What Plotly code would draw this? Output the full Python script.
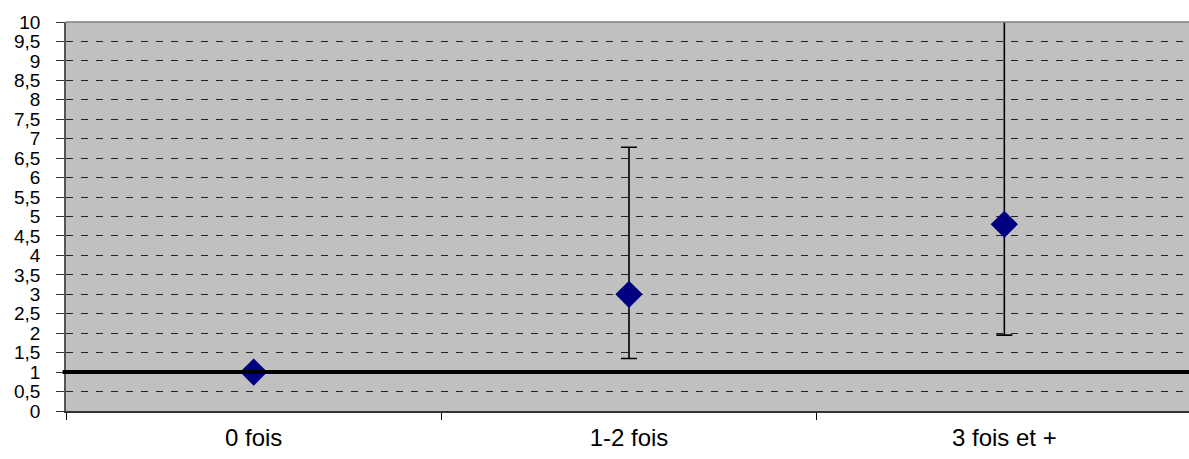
import plotly.graph_objects as go

categories = ["0 fois", "1-2 fois", "3 fois et +"]
values = [1.0, 3.0, 4.8]
upper = [1.0, 6.78, 12.0]
lower = [1.0, 1.35, 1.95]
ref_value = 1
y_ticks = [i * 0.5 for i in range(21)]

err_plus = [u - v for u, v in zip(upper, values)]
err_minus = [v - l for v, l in zip(values, lower)]

fig = go.Figure()
fig.add_trace(go.Scatter(
    x=categories, y=values, mode="markers",
    marker=dict(symbol="diamond", size=21, color="#000080", line=dict(width=0)),
    error_y=dict(type="data", array=err_plus, arrayminus=err_minus, symmetric=False,
                 color="black", thickness=1.6, width=8, visible=True),
    showlegend=False,
))

fig.add_shape(type="line", xref="paper", yref="y", x0=-0.003, x1=1, y0=ref_value, y1=ref_value,
              line=dict(color="black", width=4), layer="above")
fig.add_shape(type="line", xref="paper", yref="paper", x0=0, x1=1, y0=1, y1=1,
              line=dict(color="#808080", width=1.5), layer="above")

fig.update_layout(
    width=1192, height=459,
    margin=dict(l=66, r=0, t=22, b=48, autoexpand=False),
    paper_bgcolor="white", plot_bgcolor="#C0C0C0",
    separators=", ",
    font=dict(family="Liberation Sans, Arial, sans-serif", size=24, color="black"),
)
fig.update_xaxes(
    type="category", range=[-0.5, 2.5], tickson="boundaries", automargin=False,
    ticks="outside", ticklen=7, tickcolor="black", tickwidth=1,
    showgrid=False, showline=True, linecolor="#333333", linewidth=1.5,
    tickfont=dict(size=24), ticklabelstandoff=4,
)
fig.update_yaxes(
    range=[0, 10], tickvals=y_ticks, ticks="outside", ticklen=8, tickcolor="#333333",
    showline=True, linecolor="#555555", linewidth=1.5, automargin=False,
    showgrid=True, gridcolor="#222222", gridwidth=1, griddash="7px,8px",
    zeroline=False, tickfont=dict(size=19), ticklabelstandoff=12,
)

fig.write_html(
    "out.html",
    config={"displayModeBar": False},
    post_script="document.body.style.margin='0';document.body.style.overflow='hidden';",
)
